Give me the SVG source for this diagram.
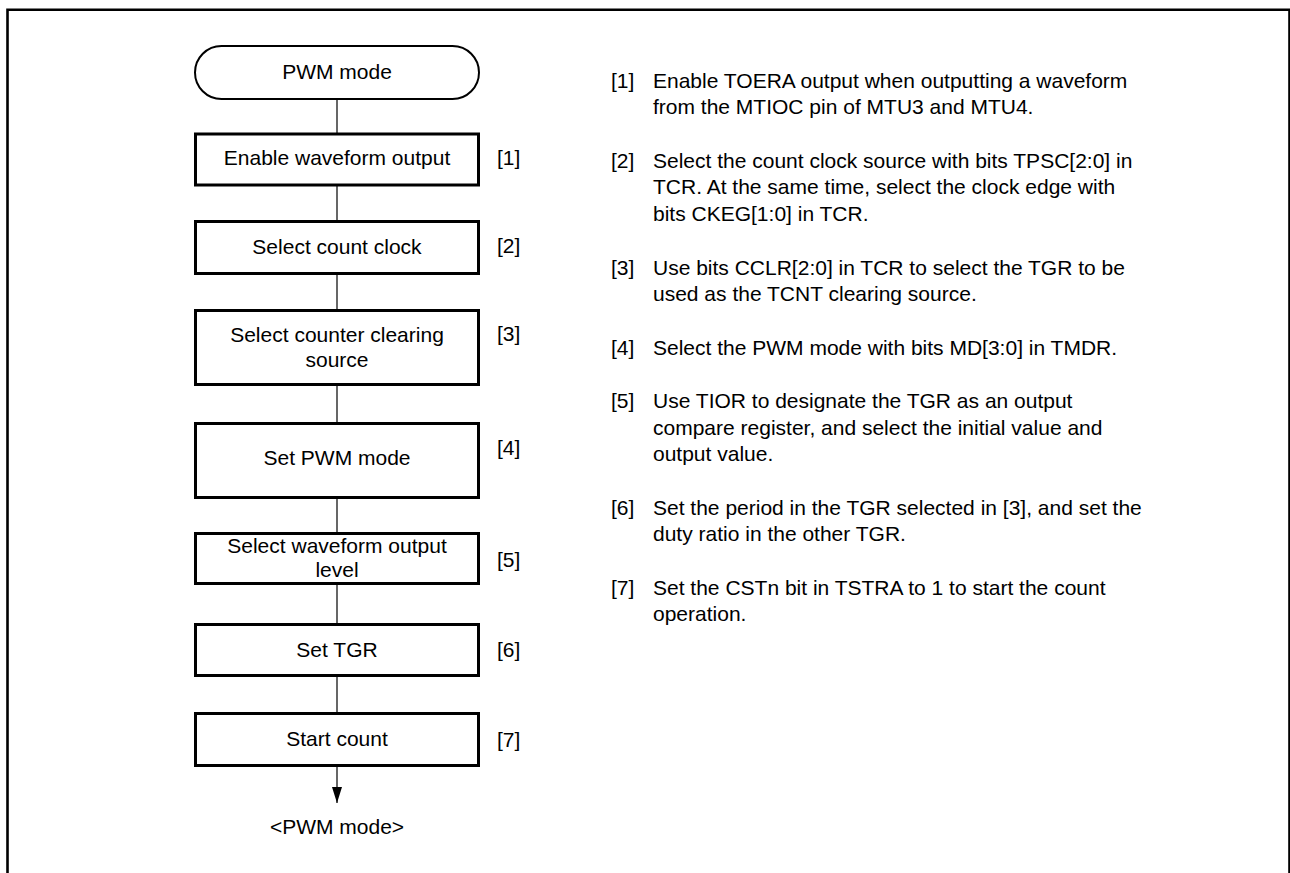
<svg xmlns="http://www.w3.org/2000/svg" width="1290" height="873" viewBox="0 0 1290 873">
<style>
text{font-family:"Liberation Sans",Arial,sans-serif;font-size:21px;fill:#000}
.c{text-anchor:middle}
.box{fill:#fff;stroke:#000;stroke-width:3}
.term{fill:#fff;stroke:#000;stroke-width:2}
.ln{stroke:#000;stroke-width:1.2;fill:none}
</style>
<defs>
<marker id="ah" markerWidth="16" markerHeight="10" refX="16" refY="5" orient="auto" markerUnits="userSpaceOnUse" viewBox="0 0 16 10">
<path d="M0,0 L16,5 L0,10 z" fill="#000"/>
</marker>
</defs>
<rect width="1290" height="873" fill="#fff"/>
<path d="M7.5,873 V9.7 H1289.5 V873" fill="none" stroke="#000" stroke-width="2.6"/>
<g id="connectors">
<line class="ln" x1="337" y1="100" x2="337" y2="133"/>
<line class="ln" x1="337" y1="186" x2="337" y2="220"/>
<line class="ln" x1="337" y1="275" x2="337" y2="309"/>
<line class="ln" x1="337" y1="386" x2="337" y2="422"/>
<line class="ln" x1="337" y1="499" x2="337" y2="532"/>
<line class="ln" x1="337" y1="585" x2="337" y2="623"/>
<line class="ln" x1="337" y1="677" x2="337" y2="712"/>
<line class="ln" x1="337" y1="767" x2="337" y2="803" marker-end="url(#ah)"/>
</g>
<g id="start">
<rect class="term" x="195" y="46" width="284" height="53" rx="26.5"/>
<text class="c" x="337" y="79">PWM mode</text>
</g>
<g id="step1">
<rect class="box" x="195.5" y="134" width="283" height="51"/>
<text class="c" x="337" y="165">Enable waveform output</text>
<text x="497" y="165">[1]</text>
</g>
<g id="step2">
<rect class="box" x="195.5" y="221.5" width="283" height="52"/>
<text class="c" x="337" y="254">Select count clock</text>
<text x="497" y="253">[2]</text>
</g>
<g id="step3">
<rect class="box" x="195.5" y="310.5" width="283" height="74"/>
<text class="c" x="337" y="342">Select counter clearing</text>
<text class="c" x="337" y="367">source</text>
<text x="497" y="341">[3]</text>
</g>
<g id="step4">
<rect class="box" x="195.5" y="423.5" width="283" height="74"/>
<text class="c" x="337" y="465">Set PWM mode</text>
<text x="497" y="455">[4]</text>
</g>
<g id="step5">
<rect class="box" x="195.5" y="533.5" width="283" height="50"/>
<text class="c" x="337" y="553">Select waveform output</text>
<text class="c" x="337" y="577">level</text>
<text x="497" y="567">[5]</text>
</g>
<g id="step6">
<rect class="box" x="195.5" y="624.5" width="283" height="51"/>
<text class="c" x="337" y="657">Set TGR</text>
<text x="497" y="657">[6]</text>
</g>
<g id="step7">
<rect class="box" x="195.5" y="713.5" width="283" height="52"/>
<text class="c" x="337" y="746">Start count</text>
<text x="497" y="747">[7]</text>
</g>
<g id="end">
<text class="c" x="337" y="834">&lt;PWM mode&gt;</text>
</g>
<g id="notes">
<text x="611" y="87.5">[1]</text>
<text x="653" y="87.5">Enable TOERA output when outputting a waveform</text>
<text x="653" y="114">from the MTIOC pin of MTU3 and MTU4.</text>
<text x="611" y="167.5">[2]</text>
<text x="653" y="167.5">Select the count clock source with bits TPSC[2:0] in</text>
<text x="653" y="194">TCR. At the same time, select the clock edge with</text>
<text x="653" y="220.5">bits CKEG[1:0] in TCR.</text>
<text x="611" y="274.5">[3]</text>
<text x="653" y="274.5">Use bits CCLR[2:0] in TCR to select the TGR to be</text>
<text x="653" y="301">used as the TCNT clearing source.</text>
<text x="611" y="354.5">[4]</text>
<text x="653" y="354.5">Select the PWM mode with bits MD[3:0] in TMDR.</text>
<text x="611" y="408">[5]</text>
<text x="653" y="408">Use TIOR to designate the TGR as an output</text>
<text x="653" y="434.5">compare register, and select the initial value and</text>
<text x="653" y="461">output value.</text>
<text x="611" y="514.5">[6]</text>
<text x="653" y="514.5">Set the period in the TGR selected in [3], and set the</text>
<text x="653" y="541">duty ratio in the other TGR.</text>
<text x="611" y="594.5">[7]</text>
<text x="653" y="594.5">Set the CSTn bit in TSTRA to 1 to start the count</text>
<text x="653" y="621">operation.</text>
</g>
</svg>
